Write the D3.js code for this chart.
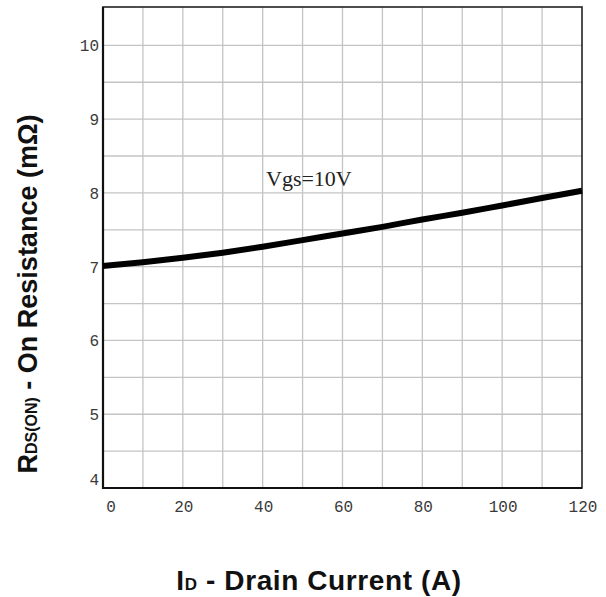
<!DOCTYPE html>
<html>
<head>
<meta charset="utf-8">
<script src="https://cdn.jsdelivr.net/npm/d3@7"></script>
<style>
  body { margin: 0; background: #fff; }
  svg { display: block; }
</style>
</head>
<body>
<svg id="chart"></svg>
<script>
// drain current (A) and on resistance (mOhm)
const current = [0, 10, 20, 30, 40, 50, 60, 70, 80, 90, 100, 110, 120];
const resistance = [7.01, 7.06, 7.12, 7.19, 7.27, 7.36, 7.45, 7.54, 7.64, 7.73, 7.83, 7.93, 8.03];
const xTicks = [0, 20, 40, 60, 80, 100, 120];
const yTicks = [4, 5, 6, 7, 8, 9, 10];
const curveLabel = 'Vgs=10V';

const width = 606, height = 597;
const margin = {top: 7, right: 24, bottom: 109, left: 103};

const svg = d3.select('#chart')
    .attr('width', width)
    .attr('height', height);

const x = d3.scaleLinear()
    .domain([0, 120])
    .range([margin.left, width - margin.right]);

const y = d3.scaleLinear()
    .domain([4, 10.52])
    .range([height - margin.bottom, margin.top]);

// grid
svg.append('g')
  .selectAll('line')
  .data(d3.range(10, 120, 10))
  .join('line')
    .attr('x1', d => x(d)).attr('x2', d => x(d))
    .attr('y1', y.range()[1]).attr('y2', y.range()[0])
    .attr('stroke', '#c4c4c4')
    .attr('stroke-width', 1.3);

svg.append('g')
  .selectAll('line')
  .data(d3.range(4.5, 10.5, 0.5))
  .join('line')
    .attr('x1', x.range()[0]).attr('x2', x.range()[1])
    .attr('y1', d => y(d)).attr('y2', d => y(d))
    .attr('stroke', '#c4c4c4')
    .attr('stroke-width', 1.3);

// frame
svg.append('rect')
    .attr('x', x.range()[0])
    .attr('y', y.range()[1])
    .attr('width', x.range()[1] - x.range()[0])
    .attr('height', y.range()[0] - y.range()[1])
    .attr('fill', 'none')
    .attr('stroke', '#222')
    .attr('stroke-width', 1.6);

svg.append('path')
    .attr('d', `M${x.range()[0]},${y.range()[1]}V${y.range()[0]}H${x.range()[1]}`)
    .attr('fill', 'none')
    .attr('stroke', '#111')
    .attr('stroke-width', 2.2);

// tick labels
const tickFont = '"Liberation Mono", "DejaVu Sans Mono", monospace';

svg.append('g')
  .selectAll('text')
  .data(xTicks)
  .join('text')
    .attr('x', d => x(d) + (d === 0 ? 8 : 1))
    .attr('y', 512)
    .attr('text-anchor', 'middle')
    .attr('font-family', tickFont)
    .attr('font-size', 16)
    .attr('fill', '#3a3a3a')
    .text(d => d);

svg.append('g')
  .selectAll('text')
  .data(yTicks)
  .join('text')
    .attr('x', 99)
    .attr('y', d => y(d) + (d === 4 ? -3 : 6))
    .attr('text-anchor', 'end')
    .attr('font-family', tickFont)
    .attr('font-size', 16)
    .attr('fill', '#3a3a3a')
    .text(d => d);

// curve
const line = d3.line()
    .x(d => x(d[0]))
    .y(d => y(d[1]))
    .curve(d3.curveMonotoneX);

svg.append('path')
    .datum(d3.zip(current, resistance))
    .attr('d', line)
    .attr('fill', 'none')
    .attr('stroke', '#000')
    .attr('stroke-width', 6);

svg.append('text')
    .attr('x', 266)
    .attr('y', 186)
    .attr('font-family', '"Liberation Serif", "DejaVu Serif", serif')
    .attr('font-size', 22)
    .attr('fill', '#222')
    .text(curveLabel);

// axis titles
const titleFont = '"Liberation Sans", Arial, sans-serif';

const xt = svg.append('text')
    .attr('x', 319)
    .attr('y', 590)
    .attr('text-anchor', 'middle')
    .attr('font-family', titleFont)
    .attr('font-weight', 'bold')
    .attr('font-size', 28)
    .attr('letter-spacing', 0.6)
    .attr('fill', '#111');
xt.append('tspan').text('I');
xt.append('tspan').attr('font-size', 17).text('D');
xt.append('tspan').text(' - Drain Current (A)');

const yt = svg.append('text')
    .attr('transform', 'translate(37,294) rotate(-90)')
    .attr('text-anchor', 'middle')
    .attr('font-family', titleFont)
    .attr('font-weight', 'bold')
    .attr('font-size', 27)
    .attr('fill', '#111');
yt.append('tspan').text('R');
yt.append('tspan').attr('font-size', 16).text('DS(ON)');
yt.append('tspan').text(' - On Resistance (mΩ)');
</script>
</body>
</html>
